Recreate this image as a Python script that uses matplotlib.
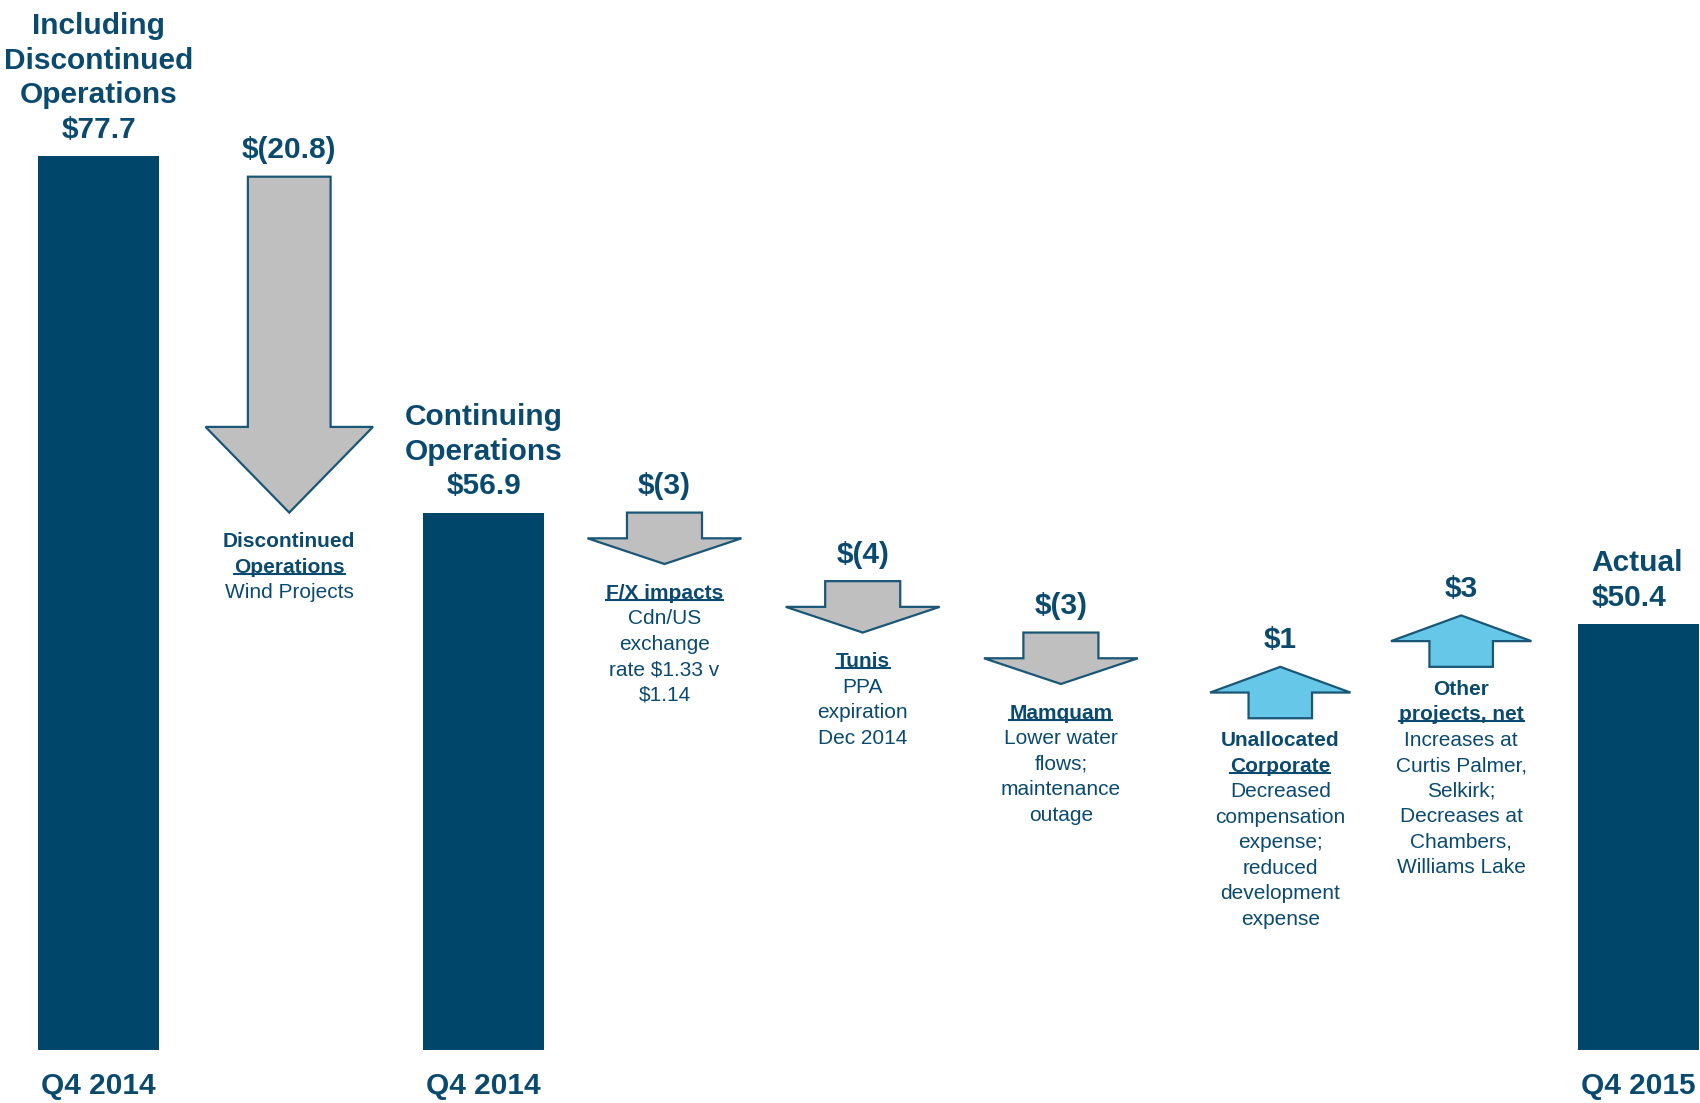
import matplotlib
matplotlib.use('Agg')
import matplotlib.pyplot as plt
from matplotlib.patches import Polygon
from matplotlib.lines import Line2D

# data
steps = ['Q4 2014 incl. discontinued', 'Discontinued Operations', 'Q4 2014 continuing',
         'F/X impacts', 'Tunis', 'Mamquam', 'Unallocated Corporate',
         'Other projects, net', 'Q4 2015']
totals = [77.7, 56.9, 50.4]
total_periods = ['Q4 2014', 'Q4 2014', 'Q4 2015']
total_titles = [['Including', 'Discontinued', 'Operations', '$77.7'],
                ['Continuing', 'Operations', '$56.9'],
                ['Actual', '$50.4']]
changes = [-20.8, -3, -4, -3, 1, 3]
change_labels = ['$(20.8)', '$(3)', '$(4)', '$(3)', '$1', '$3']
change_notes = [
    [('Discontinued', 'b'), ('Operations', 'bu'), ('Wind Projects', '')],
    [('F/X impacts', 'bu'), ('Cdn/US', ''), ('exchange', ''), ('rate $1.33 v', ''), ('$1.14', '')],
    [('Tunis', 'bu'), ('PPA', ''), ('expiration', ''), ('Dec 2014', '')],
    [('Mamquam', 'bu'), ('Lower water', ''), ('flows;', ''), ('maintenance', ''), ('outage', '')],
    [('Unallocated', 'b'), ('Corporate', 'bu'), ('Decreased', ''), ('compensation', ''),
     ('expense;', ''), ('reduced', ''), ('development', ''), ('expense', '')],
    [('Other', 'b'), ('projects, net', 'bu'), ('Increases at', ''), ('Curtis Palmer,', ''),
     ('Selkirk;', ''), ('Decreases at', ''), ('Chambers,', ''), ('Williams Lake', '')],
]

# layout: slot of each step along x
slots = [0, 0.99, 2.0, 2.94, 3.97, 5.0, 6.14, 7.08, 8.0]
total_pos = [slots[0], slots[2], slots[8]]
change_pos = [slots[1]] + slots[3:8]

NAVY = '#00466A'
TEXT = '#0B4A6F'
GRAY = '#BFBFBF'
EDGE = '#1A5676'
BLUE = '#66C7E8'
FLOOR = 25.55      # truncated value axis, bars start here
GAP = 1.2          # space between the previous level and an arrow's tail
MIN_LEN = 3.0      # shortest arrow drawn, so small changes stay visible

plt.rcParams['font.family'] = ['Liberation Sans', 'DejaVu Sans']

fig = plt.figure(figsize=(17, 11.03), dpi=100)
ax = fig.add_axes([0, 0, 1, 1])
ax.set_xlim(-0.513, 8.321)
ax.set_ylim(22.45, 86.81)
ax.axis('off')

underlined = []


def text_lines(x, y, lines, start, step, size, up=False):
    n = len(lines)
    for i, (s, style) in enumerate(lines):
        k = (n - 1 - i) if up else i
        dy = start + k * step
        t = ax.annotate(s, (x, y), xytext=(0, dy if up else -dy),
                        textcoords='offset points', ha='center', va='center',
                        fontsize=size, color=TEXT, parse_math=False,
                        fontweight='bold' if 'b' in style else 'normal')
        if 'u' in style:
            underlined.append(t)


# bars
ax.bar(total_pos, [v - FLOOR for v in totals], bottom=FLOOR, width=0.63, color=NAVY)
for x, v, per, title in zip(total_pos, totals, total_periods, total_titles):
    ax.annotate(per, (x, FLOOR), xytext=(0, -26), textcoords='offset points',
                ha='center', va='center', fontsize=21.5, fontweight='bold', color=TEXT)
    if x == total_pos[-1]:
        for i, s in enumerate(title):
            ax.annotate(s, (x - 0.315, v), xytext=(10, 19 + (len(title) - 1 - i) * 24.8),
                        textcoords='offset points', ha='left', va='center',
                        fontsize=21.5, fontweight='bold', color=TEXT, parse_math=False)
    else:
        text_lines(x, v, [(s, 'b') for s in title], 19, 24.8, 21.5, up=True)

# change arrows
level = totals[0]
for x, d, lab, note in zip(change_pos, changes, change_labels, change_notes):
    end = level + d
    length = max(abs(d) - GAP, MIN_LEN)
    sgn = 1 if d > 0 else -1
    start = end - sgn * length
    head_len = min(0.5 * length, 5.0)
    if d < 0:
        shaft, head, face = (0.43, 0.87, GRAY) if abs(d) > 10 else (0.39, 0.80, GRAY)
    else:
        shaft, head, face = 0.33, 0.73, BLUE
    yh = end - sgn * head_len
    pts = [(x - shaft / 2, start), (x + shaft / 2, start), (x + shaft / 2, yh),
           (x + head / 2, yh), (x, end), (x - head / 2, yh), (x - shaft / 2, yh)]
    ax.add_patch(Polygon(pts, closed=True, facecolor=face, edgecolor=EDGE, lw=1.6))
    top, bottom = max(start, end), min(start, end)
    ax.annotate(lab, (x, top), xytext=(0, 19), textcoords='offset points',
                ha='center', va='center', fontsize=21.5, fontweight='bold',
                color=TEXT, parse_math=False)
    text_lines(x, bottom, note, 21 if d < 0 else 16, 18.4, 15)
    level = end

# underline the headings that are underlined in the slide
renderer = fig.canvas.get_renderer()
inv = fig.transFigure.inverted()
for t in underlined:
    bb = t.get_window_extent(renderer)
    (x0, y0), (x1, _) = inv.transform([(bb.x0, bb.y0 + 3), (bb.x1, bb.y0 + 3)])
    fig.add_artist(Line2D([x0, x1], [y0, y0], transform=fig.transFigure,
                          color=TEXT, lw=1.5))

fig.savefig('out.png', dpi=100)
